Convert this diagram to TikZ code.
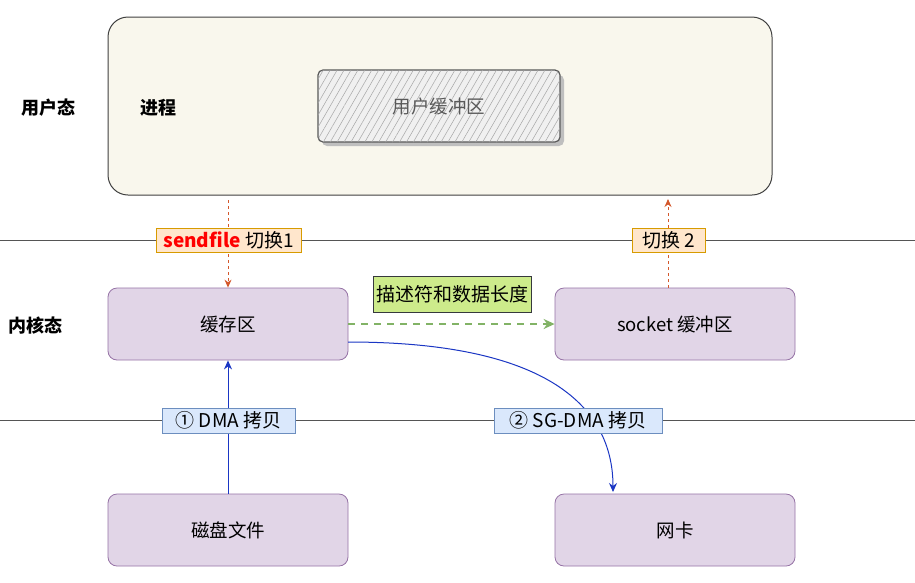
\documentclass[tikz,border=0pt]{standalone}
\usepackage{fontspec}
\setmainfont{Noto Sans CJK SC}
\usetikzlibrary{arrows.meta,patterns.meta}
\definecolor{cream}{HTML}{F9F7ED}
\definecolor{purfill}{HTML}{E1D5E7}
\definecolor{purline}{HTML}{9673A6}
\definecolor{orfill}{HTML}{FFE6CC}
\definecolor{orline}{HTML}{D79B00}
\definecolor{blfill}{HTML}{DAE8FC}
\definecolor{blline}{HTML}{6C8EBF}
\definecolor{grfill}{HTML}{CDEB8B}
\definecolor{grline}{HTML}{36393D}
\definecolor{reddash}{HTML}{D4582C}
\definecolor{greendash}{HTML}{82B366}
\definecolor{bluearrow}{HTML}{1A36C4}
\definecolor{sepline}{HTML}{555555}
\begin{document}
\begin{tikzpicture}[x=1pt,y=-1pt,
  txt/.style={font=\fontsize{18.5}{20}\selectfont},
  boldlbl/.style={font=\fontsize{18}{20}\selectfont\bfseries},
  kbox/.style={draw=purline,fill=purfill,rounded corners=9pt,line width=0.8pt,minimum width=240pt,minimum height=72pt,font=\fontsize{18.5}{20}\selectfont},
  lbl/.style={line width=0.8pt,inner sep=1pt,font=\fontsize{19}{20}\selectfont},
  orlbl/.style={lbl,draw=orline,fill=orfill,minimum height=24pt},
  bllbl/.style={lbl,draw=blline,fill=blfill,minimum height=25pt},
  grlbl/.style={lbl,draw=grline,fill=grfill,minimum height=36pt,minimum width=158pt},
  sep/.style={draw=sepline,line width=0.9pt},
  rdash/.style={draw=reddash,line width=0.9pt,dash pattern=on 3pt off 3pt,-{Stealth[length=8pt,width=7pt]}},
  gdash/.style={draw=greendash,line width=1.8pt,dash pattern=on 7pt off 6pt,-{Stealth[length=11pt,width=10pt]}},
  barrow/.style={draw=bluearrow,line width=1pt,-{Stealth[length=9pt,width=8pt]}}
]
\useasboundingbox (0,0) rectangle (915,582);
\fill[white] (0,0) rectangle (915,582);

% separator lines
\coordinate (s1l) at (0,240); \coordinate (s1r) at (915,240);
\coordinate (s2l) at (0,420); \coordinate (s2r) at (915,420);
\draw[sep] (s1l) -- (s1r);
\draw[sep] (s2l) -- (s2r);

% user process box
\node[draw=black!75,fill=cream,rounded corners=20pt,line width=1pt,minimum width=664pt,minimum height=178pt] (proc) at (440,106) {};
\node[boldlbl] (procl) at (158,108) {进程};
\node[boldlbl] (userl) at (48,108) {用户态};
\node[boldlbl] (kernl) at (36,326) {内核态};

% user buffer (hatched)
\fill[black!25,rounded corners=5pt] (322,75) rectangle (564,146);
\node[draw=black!65,fill=black!6,rounded corners=5pt,line width=1.2pt,minimum width=242pt,minimum height=72pt,
  postaction={pattern={Lines[angle=60,distance=6pt,line width=0.5pt]},pattern color=black!35}] (ubuf) at (439,106) {};
\node[txt,text=black!65] (ubuft) at (ubuf.center) {用户缓冲区};

% kernel boxes
\node[kbox] (cache) at (228,324) {缓存区};
\node[kbox] (sock) at (675,324) {socket 缓冲区};
\node[kbox] (disk) at (228,530) {磁盘文件};
\node[kbox] (nic) at (675,530) {网卡};

% arrows
\coordinate (r1s) at (228,200);
\draw[rdash] (r1s) -- (cache.north);
\coordinate (r2e) at (668,199);
\coordinate (r2s) at (668,288);
\draw[rdash] (r2s) -- (r2e);
\draw[gdash] (cache.east) -- (sock.west);
\draw[barrow] (disk.north) -- (cache.south);
\coordinate (bcs) at (348,342);
\coordinate (bce) at (613,492);
\draw[barrow] (bcs) .. controls (560,342) and (613,415) .. (bce);

% labels
\node[orlbl,minimum width=145pt] (l1) at (228.5,240) {\textcolor{red}{\textbf{sendfile}} 切换1};
\node[orlbl,minimum width=73pt] (l2) at (668.5,240) {切换 2};
\node[grlbl] (l3) at (452,294) {描述符和数据长度};
\node[bllbl,minimum width=133pt] (l4) at (228.5,420.5) {① DMA 拷贝};
\node[bllbl,minimum width=168pt] (l5) at (578,420.5) {② SG-DMA 拷贝};
\end{tikzpicture}
\end{document}
